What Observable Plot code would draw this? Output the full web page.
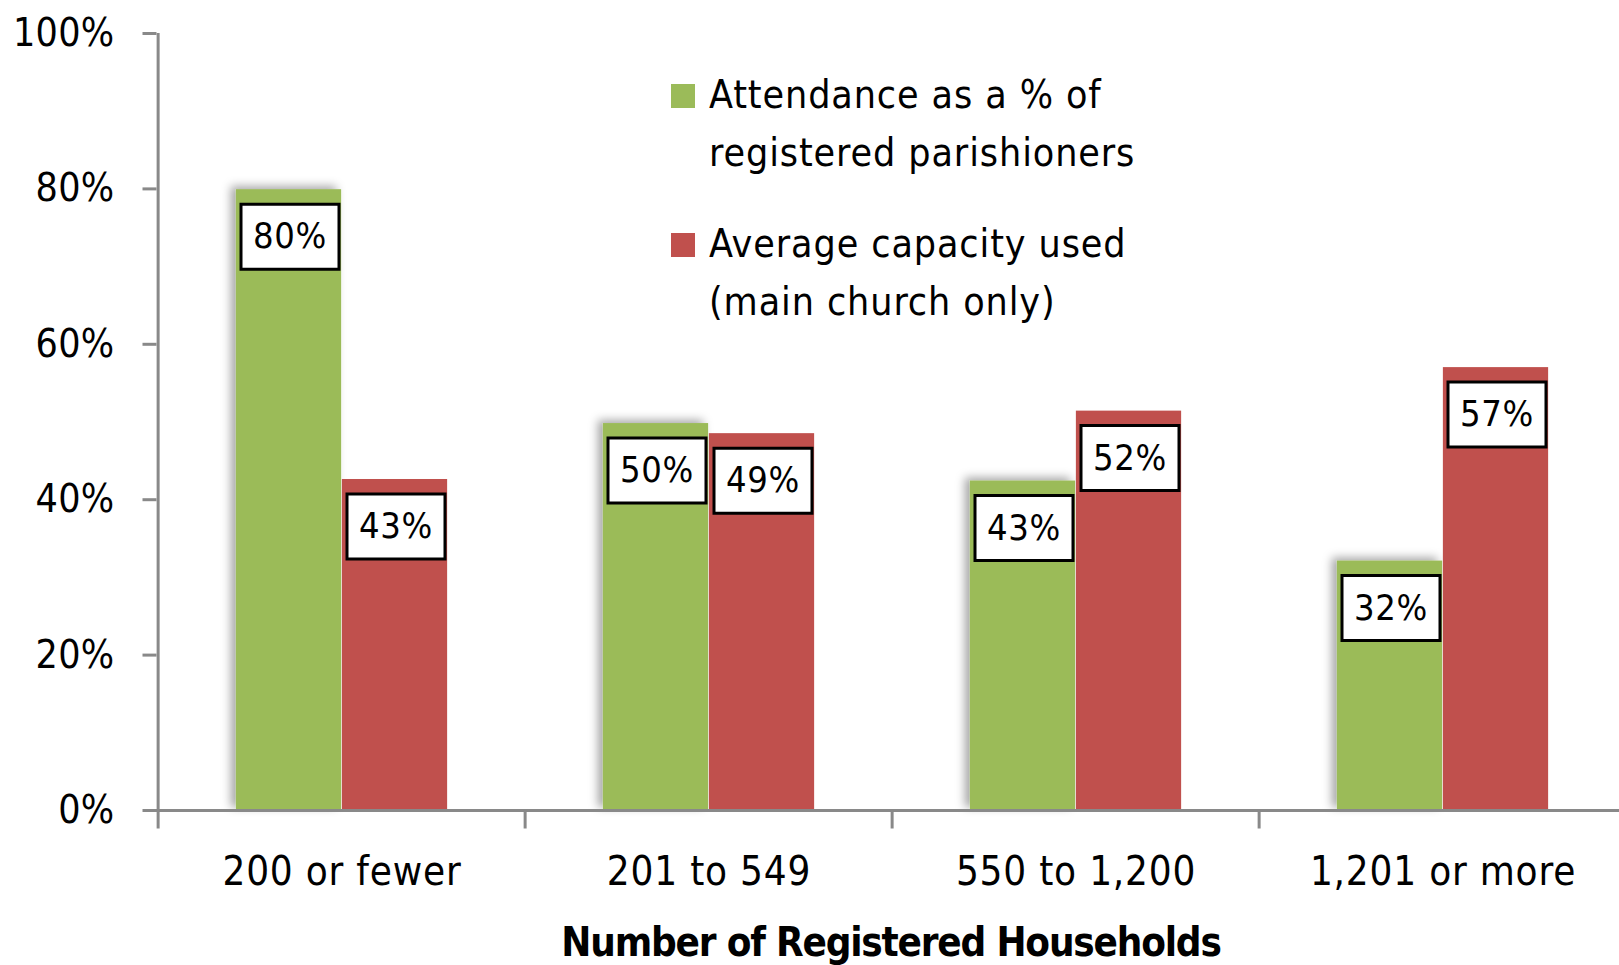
<!DOCTYPE html>
<html><head><meta charset="utf-8">
<script src="https://cdn.jsdelivr.net/npm/d3@7"></script>
<script src="https://cdn.jsdelivr.net/npm/@observablehq/plot@0.6"></script>
<style>
html,body{margin:0;padding:0;background:#fff;}
#wrap{position:relative;width:1619px;height:965px;overflow:hidden;background:#fff;}
.legend{position:absolute;left:671px;top:66px;font-family:"DejaVu Sans Condensed","DejaVu Sans",sans-serif;font-size:39px;color:#000;letter-spacing:0.9px;}
.item{position:relative;padding-left:38px;line-height:58px;margin-bottom:33px;}
.sw{position:absolute;left:0;top:18px;width:24px;height:24px;}
.xtitle{position:absolute;left:0;width:1782px;top:919px;text-align:center;font-family:"DejaVu Sans Condensed","DejaVu Sans",sans-serif;font-weight:bold;font-size:40px;color:#000;letter-spacing:-1.2px;}
</style></head><body><div id="wrap"></div>
<script>
const categories = ["200 or fewer", "201 to 549", "550 to 1,200", "1,201 or more"];
const attendance = [79.9, 49.8, 42.4, 32.1];
const capacity = [42.6, 48.5, 51.4, 57.0];
const attendanceLabels = ["80%", "50%", "43%", "32%"];
const capacityLabels = ["43%", "49%", "52%", "57%"];
const yTicks = [0, 20, 40, 60, 80, 100];
const seriesNames = [["Attendance as a % of", "registered parishioners"], ["Average capacity used", "(main church only)"]];
const seriesColors = ["#9BBB59", "#C0504D"];
const xTitle = "Number of Registered Households";

const FONT = '"DejaVu Sans Condensed","DejaVu Sans",sans-serif';
const W = 1619, H = 965;
const xRange = [156, 1627];
const bw = (xRange[1] - xRange[0]) / categories.length;
const barW = 106;

const greenRows = categories.map((c, i) => ({category: c, value: attendance[i], label: attendanceLabels[i]}));
const redRows = categories.map((c, i) => ({category: c, value: capacity[i], label: capacityLabels[i]}));

const boxSymbol = {draw(ctx) { ctx.rect(-49, -32.5, 98, 65); }};
const vTickSymbol = {draw(ctx) { ctx.moveTo(0, 0); ctx.lineTo(0, 18); }};
const hTickSymbol = {draw(ctx) { ctx.moveTo(-14, 0); ctx.lineTo(0, 0); }};
const axisColor = "#898989";

const plot = Plot.plot({
  width: W, height: H,
  marginLeft: 156, marginRight: 0, marginTop: 33, marginBottom: 155,
  style: {fontFamily: FONT, fontSize: "39px", background: "#fff", color: "#000", overflow: "visible"},
  x: {domain: categories, range: xRange, padding: 0, axis: null},
  y: {domain: [0, 100], axis: null},
  marks: [
    Plot.barY(greenRows, {x: "category", y: "value", fill: seriesColors[0], insetLeft: bw / 2 - barW, insetRight: bw / 2}),
    Plot.barY(redRows, {x: "category", y: "value", fill: seriesColors[1], insetLeft: bw / 2, insetRight: bw / 2 - barW}),
    Plot.ruleY([0], {stroke: axisColor, strokeWidth: 3}),
    Plot.ruleX([categories[0]], {x: d => d, y1: 100, y2: 0, dx: -bw / 2, stroke: axisColor, strokeWidth: 3}),
    Plot.dot(categories, {x: d => d, y: d => 0, dx: -bw / 2, symbol: vTickSymbol, stroke: axisColor, strokeWidth: 3, fill: "none"}),
    Plot.dot(yTicks, {y: d => d, frameAnchor: "left", symbol: hTickSymbol, stroke: axisColor, strokeWidth: 3, fill: "none"}),
    Plot.text(yTicks, {y: d => d, text: d => d + "%", frameAnchor: "left", textAnchor: "end", dx: -42, fontSize: 39, fill: "#000"}),
    Plot.text(categories, {x: d => d, y: d => 0, text: d => d, dy: 62, fontSize: 40, fill: "#000"}),
    Plot.dot(greenRows, {x: "category", y: "value", dx: -52, dy: 47, symbol: boxSymbol, fill: "#fff", stroke: "#000", strokeWidth: 3}),
    Plot.dot(redRows, {x: "category", y: "value", dx: 54, dy: 47, symbol: boxSymbol, fill: "#fff", stroke: "#000", strokeWidth: 3}),
    Plot.text(greenRows, {x: "category", y: "value", text: "label", dx: -52, dy: 47, fontSize: 36, fill: "#000"}),
    Plot.text(redRows, {x: "category", y: "value", text: "label", dx: 54, dy: 47, fontSize: 36, fill: "#000"})
  ]
});

// soft shadow for the first series bars
const ns = "http://www.w3.org/2000/svg";
const defs = document.createElementNS(ns, "defs");
defs.innerHTML = '<filter id="sh" x="-30%" y="-10%" width="160%" height="120%"><feDropShadow dx="-5" dy="-3" stdDeviation="5" flood-color="#000" flood-opacity="0.35"/></filter>';
plot.insertBefore(defs, plot.firstChild);
const bars = plot.querySelectorAll('g[aria-label="bar"]');
if (bars.length) bars[0].setAttribute("filter", "url(#sh)");

// letter spacing tweaks for text marks (tick labels, categories, value labels)
const texts = plot.querySelectorAll('g[aria-label="text"]');
const spacing = ["0.3px", "0.8px", "0.6px", "0.6px"];
texts.forEach((g, i) => { if (spacing[i]) g.setAttribute("letter-spacing", spacing[i]); });

const wrap = document.getElementById("wrap");
wrap.appendChild(plot);

const legend = document.createElement("div");
legend.className = "legend";
seriesNames.forEach((lines, i) => {
  const it = document.createElement("div");
  it.className = "item";
  const sw = document.createElement("div");
  sw.className = "sw";
  sw.style.background = seriesColors[i];
  it.appendChild(sw);
  it.insertAdjacentHTML("beforeend", lines.join("<br>"));
  legend.appendChild(it);
});
wrap.appendChild(legend);

const xt = document.createElement("div");
xt.className = "xtitle";
xt.textContent = xTitle;
wrap.appendChild(xt);
</script>
</body></html>
